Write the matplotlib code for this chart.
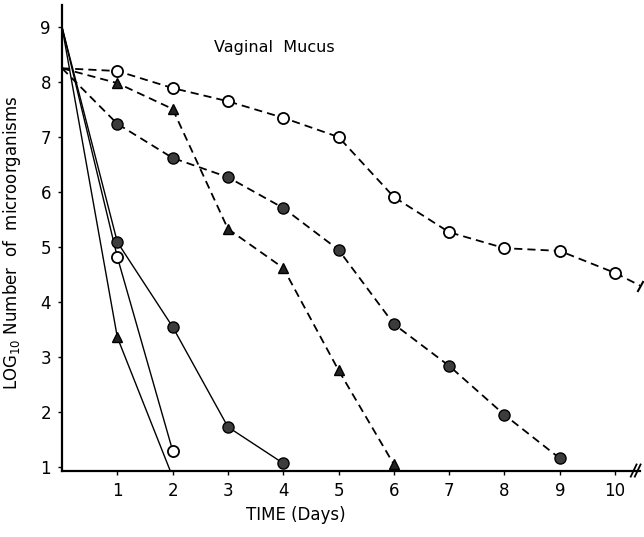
import matplotlib
matplotlib.use('Agg')
import matplotlib.pyplot as plt

plt.rcParams['font.family'] = ['DejaVu Sans']

# solid lines (fast kill), all start at log 9 on day 0
solid_open_days = [0, 1, 2]
solid_open_vals = [9.0, 4.82, 1.3]
solid_fill_days = [0, 1, 2, 3, 4]
solid_fill_vals = [9.0, 5.09, 3.55, 1.73, 1.07]
solid_tri_days = [0, 1, 1.95]
solid_tri_vals = [9.0, 3.36, 0.95]

# dashed lines (slow kill)
dash_open_days = [0, 1, 2, 3, 4, 5, 6, 7, 8, 9, 10]
dash_open_vals = [8.25, 8.2, 7.89, 7.65, 7.35, 7.0, 5.91, 5.27, 4.98, 4.93, 4.53]
dash_open_end_day = 10.45
dash_open_end_val = 4.3
dash_fill_days = [0, 1, 2, 3, 4, 5, 6, 7, 8, 9]
dash_fill_vals = [8.25, 7.24, 6.62, 6.27, 5.71, 4.95, 3.6, 2.84, 1.95, 1.16]
dash_tri_days = [0, 1, 2, 3, 4, 5, 6]
dash_tri_vals = [8.25, 7.98, 7.51, 5.33, 4.62, 2.76, 1.05]

x_ticks = [1, 2, 3, 4, 5, 6, 7, 8, 9, 10]
y_ticks = [1, 2, 3, 4, 5, 6, 7, 8, 9]

fig = plt.figure(figsize=(6.44, 5.37), dpi=100)
ax = fig.add_axes([0.0963, 0.1229, 0.8975, 0.8678])

fill_c = '#3c3c3c'
dash = (4.5, 2.8)

# markers on day 0 are not drawn, so plot line and markers separately
ax.plot(solid_open_days, solid_open_vals, color='black', lw=1.0)
ax.plot(solid_open_days[1:], solid_open_vals[1:], 'o', ms=8, mfc='white', mec='black', mew=1.3)
ax.plot(solid_fill_days, solid_fill_vals, color='black', lw=1.0)
ax.plot(solid_fill_days[1:], solid_fill_vals[1:], 'o', ms=8, mfc=fill_c, mec='black', mew=1.0)
ax.plot(solid_tri_days, solid_tri_vals, color='black', lw=1.0)
ax.plot(solid_tri_days[1:2], solid_tri_vals[1:2], '^', ms=7, mfc='#222222', mec='black')

ax.plot(dash_open_days + [dash_open_end_day], dash_open_vals + [dash_open_end_val],
        color='black', lw=1.3, dashes=dash)
ax.plot(dash_open_days[1:], dash_open_vals[1:], 'o', ms=8, mfc='white', mec='black', mew=1.3)
ax.plot([dash_open_end_day], [dash_open_end_val], marker=(2, 0, -29), ms=9,
        mec='black', mew=1.5, clip_on=False)
ax.plot(dash_fill_days, dash_fill_vals, color='black', lw=1.3, dashes=dash)
ax.plot(dash_fill_days[1:], dash_fill_vals[1:], 'o', ms=8, mfc=fill_c, mec='black', mew=1.0)
ax.plot(dash_tri_days, dash_tri_vals, color='black', lw=1.3, dashes=dash)
ax.plot(dash_tri_days[1:], dash_tri_vals[1:], '^', ms=7, mfc='#222222', mec='black')

ax.set_xlim(0, 10.45)
ax.set_ylim(0.93, 9.4)
ax.set_xticks(x_ticks)
ax.set_yticks(y_ticks)
ax.tick_params(labelsize=12, length=3, width=1, pad=5)
for s in ['top', 'right']:
    ax.spines[s].set_visible(False)
for s in ['left', 'bottom']:
    ax.spines[s].set_linewidth(1.6)

ax.set_xlabel('TIME (Days)', fontsize=12)
ax.xaxis.set_label_coords(0.405, -0.075)
ax.set_ylabel('LOG$_{10}$ Number  of  microorganisms', fontsize=12)
ax.yaxis.set_label_coords(-0.068, 0.49)

ax.text(0.367, 0.908, 'Vaginal  Mucus', transform=ax.transAxes, fontsize=11.5,
        ha='center', va='center')

# axis break mark "//" at the end of the time axis
for off in [0.0, 0.007]:
    ax.plot([0.984 + off, 0.994 + off], [-0.012, 0.014], transform=ax.transAxes,
            color='black', lw=1.3, clip_on=False)

fig.savefig('out.png', dpi=100, facecolor='white')
